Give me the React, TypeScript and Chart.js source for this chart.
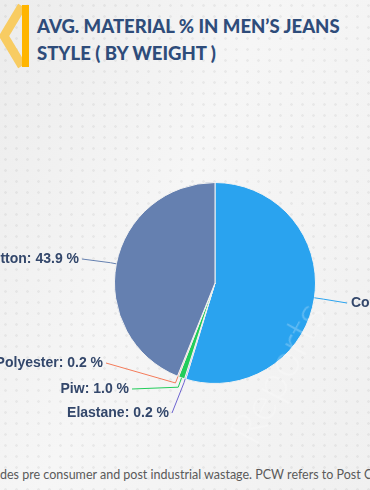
import React, { useEffect, useRef } from 'react';
import { Chart, registerables } from 'chart.js';

Chart.register(...registerables);

const categories = ['Cotton', 'Elastane', 'Piw', 'Polyester', 'Organic Cotton'];
const values = [54.7, 0.2, 1.0, 0.2, 43.9];
const colors = ['#2AA3EF', '#6C63D0', '#22CC5A', '#F47B5A', '#6580B0'];
// label anchor offsets from pie centre (px) and elbow distance beyond radius
const labelOffsets: [number, number][] = [[132, 20], [-43, 130], [-83, 106], [-109, 80], [-133, -24]];
const elbowDist = [9, 4, 10, 7, 6];

const title1 = 'AVG. MATERIAL % IN MEN\u2019S JEANS';
const title2 = 'STYLE ( BY WEIGHT )';
const footnotePrefix = 'Note: PIW inclu';
const footnoteText = 'des pre consumer and post industrial wastage. PCW refers to Post Consumer Waste.';

const outsideLabels = {
  id: 'outsideLabels',
  afterDatasetsDraw(chart: any) {
    const ctx = chart.ctx;
    const meta = chart.getDatasetMeta(0);
    ctx.save();
    meta.data.forEach((arc: any, i: number) => {
      const p = arc.getProps(['x', 'y', 'startAngle', 'endAngle', 'outerRadius'], true);
      const mid = (p.startAngle + p.endAngle) / 2;
      const ex = p.x + Math.cos(mid) * p.outerRadius;
      const ey = p.y + Math.sin(mid) * p.outerRadius;
      const bx = p.x + Math.cos(mid) * (p.outerRadius + elbowDist[i]);
      const by = p.y + Math.sin(mid) * (p.outerRadius + elbowDist[i]);
      const ax = p.x + labelOffsets[i][0];
      const ay = p.y + labelOffsets[i][1];
      ctx.beginPath();
      ctx.strokeStyle = colors[i];
      ctx.lineWidth = 1;
      ctx.moveTo(ex, ey);
      ctx.lineTo(bx, by);
      ctx.lineTo(ax, ay);
      ctx.stroke();
      const right = ax > p.x;
      ctx.font = 'bold 14px "Liberation Sans", Arial, sans-serif';
      ctx.fillStyle = '#33476B';
      ctx.textBaseline = 'middle';
      ctx.textAlign = right ? 'left' : 'right';
      const txt = `${categories[i]}: ${values[i].toFixed(1)} %`;
      ctx.fillText(txt, right ? ax + 4 : ax - 3, ay);
    });
    ctx.restore();
  },
};

export default function App() {
  const ref = useRef<HTMLCanvasElement | null>(null);
  useEffect(() => {
    if (!ref.current) return;
    const chart = new Chart(ref.current, {
      type: 'pie',
      data: {
        labels: categories,
        datasets: [
          {
            data: values,
            backgroundColor: colors,
            borderColor: '#f2f2f2',
            borderWidth: 1,
          },
        ],
      },
      options: {
        animation: false,
        responsive: false,
        devicePixelRatio: 1,
        layout: { padding: { left: 114, right: 54, top: 182, bottom: 106 } },
        plugins: { legend: { display: false }, tooltip: { enabled: false } },
      },
      plugins: [outsideLabels],
    });
    return () => chart.destroy();
  }, []);

  return (
    <div
      style={{
        position: 'fixed',
        left: 0,
        top: 0,
        width: 370,
        height: 490,
        overflow: 'hidden',
        background:
          'radial-gradient(circle, rgba(0,0,0,0.05) 1px, transparent 1.6px) 0 0 / 11px 11px, linear-gradient(115deg, #ececec 0%, #f6f6f6 45%, #f0f0f0 100%)',
        fontFamily: 'Lato, sans-serif',
      }}
    >
      <svg width={40} height={75} style={{ position: 'absolute', left: 0, top: 0 }}>
        <polyline points="22,6 4,36 22,66" fill="none" stroke="#F8CC62" strokeWidth={9} />
        <rect x={22} y={5} width={7} height={62} fill="#FFB500" />
      </svg>
      <div
        style={{
          position: 'absolute',
          left: 37,
          top: 13,
          color: '#2E4C7A',
          fontWeight: 900,
          fontSize: 18.5,
          lineHeight: '27px',
          whiteSpace: 'nowrap',
        }}
      >
        <div>{title1}</div>
        <div>{title2}</div>
      </div>
      <div
        style={{
          position: 'absolute',
          left: 200,
          top: 345,
          color: 'rgba(255,255,255,0.25)',
          fontWeight: 300,
          fontSize: 46,
          transform: 'rotate(-62deg)',
          transformOrigin: 'center',
          whiteSpace: 'nowrap',
          pointerEvents: 'none',
          zIndex: 2,
        }}
      >
        Reports
      </div>
      <canvas ref={ref} width={370} height={490} style={{ position: 'absolute', left: 0, top: 0, zIndex: 1 }} />
      <div
        style={{
          position: 'absolute',
          left: 0,
          top: 467,
          width: 370,
          overflow: 'hidden',
          whiteSpace: 'nowrap',
          fontSize: 12.5,
          color: '#5a5a5a',
        }}
      >
        <span style={{ position: 'relative' }}>
          <span style={{ position: 'absolute', right: '100%' }}>{footnotePrefix}</span>
          {footnoteText}
        </span>
      </div>
    </div>
  );
}
